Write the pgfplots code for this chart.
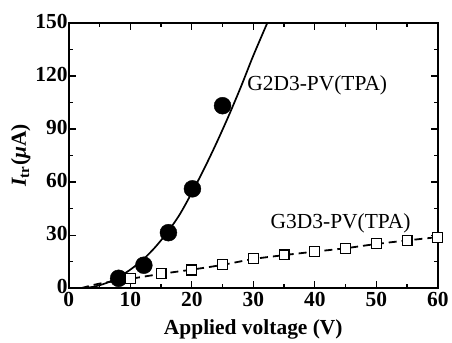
\documentclass[border=0pt]{standalone}
\usepackage{fontspec}
\setmainfont{Liberation Serif}
\usepackage{pgfplots}
\pgfplotsset{compat=1.18}
\newcommand{\bigf}{\fontsize{21.5}{24}\selectfont}
\begin{document}
\begin{tikzpicture}
\begin{axis}[
  scale only axis, width=370pt, height=266pt,
  at={(0,0)}, anchor=south west,
  xmin=0, xmax=60, ymin=0, ymax=150,
  xtick={0,10,...,60}, ytick={0,30,...,150},
  minor xtick={5,15,...,55}, minor ytick={15,45,...,135},
  tick align=inside, major tick length=7pt, minor tick length=4pt,
  every tick/.style={line width=1.2pt, black},
  axis line style={line width=1.6pt},
  /pgf/number format/assume math mode=true,
  ticklabel style={font=\bigf\bfseries},
  xticklabel style={inner sep=3.5pt},
  yticklabel style={inner sep=1pt, yshift=1.5pt},
  xlabel={Applied voltage (V)},
  ylabel={\textit{I}\textsubscript{tr}(\textit{μ}A)},
  every axis x label/.style={at={(axis description cs:0.5,-0.155)}, anchor=center, font=\bigf\bfseries},
  every axis y label/.style={at={(axis description cs:-0.13,0.5)}, rotate=90, anchor=center, font=\bigf\bfseries},
  clip=true,
]
\addplot[black, line width=1.7pt, smooth] coordinates {
 (2,0) (4,0.8) (6,2.8) (8,6) (10,10.5) (12,16) (14,23) (16,31.5) (18,41.5) (20,54)
 (22,67.5) (24,82) (26,97.5) (28,114) (30,131.5) (32.4,151)
};
\addplot[only marks, mark=*, mark size=8.5pt, black] coordinates {
 (8.1,5.6) (12.2,13) (16.2,31.4) (20.1,56.2) (25.0,103.2)
};
\addplot[black, line width=1.8pt, dash pattern=on 8pt off 5pt, smooth] coordinates {
 (2,0) (5,2.6) (10,5.3) (15,8.1) (20,10.5) (25,13.2) (30,16.5) (35,18.7) (40,20.7)
 (45,22.6) (50,25) (55,27) (60,28.9)
};
\addplot[only marks, mark=square*, mark size=5pt, mark options={fill=white, draw=black, line width=1.1pt}] coordinates {
 (10,5.5) (15,8.3) (20,10.3) (25,13.2) (30,16.8) (35,18.8) (40,20.7) (45,22.6) (50,25.2) (55,27.1) (60,28.9)
};
\node[anchor=west, font=\bigf, inner sep=0pt] at (axis cs:29.0,114.5) {G2D3-PV(TPA)};
\node[anchor=west, font=\bigf, inner sep=0pt] at (axis cs:32.8,36.7) {G3D3-PV(TPA)};
\end{axis}
\path[use as bounding box] (-69pt,-52pt) rectangle (383pt,289pt);
\end{tikzpicture}
\end{document}
